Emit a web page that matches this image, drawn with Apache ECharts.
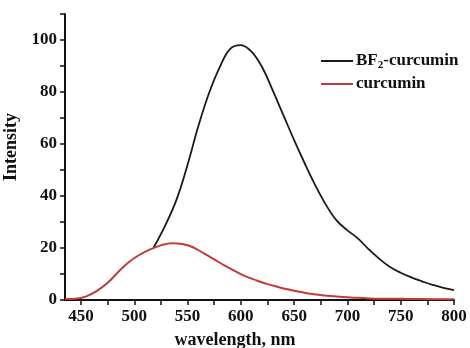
<!DOCTYPE html>
<html>
<head>
<meta charset="utf-8">
<script src="https://cdn.jsdelivr.net/npm/echarts@6/dist/echarts.min.js"></script>
<style>
html,body{margin:0;padding:0;background:#fff;}
#c{width:470px;height:348px;}
</style>
</head>
<body>
<div id="c"></div>
<script>
// ---- data ----
const bf2Wavelength = [518, 530, 540, 550, 560, 570, 580, 590, 600, 610, 620, 630, 640, 650, 660, 670, 680, 690, 700, 710, 720, 730, 740, 750, 760, 770, 780, 790, 800];
const bf2Intensity  = [20, 29.5, 39, 52, 66.7, 79.4, 89.4, 96.6, 98, 95.5, 89.5, 80.5, 71, 61.5, 52.5, 44, 36.5, 30.5, 26.8, 23.6, 19.5, 15.8, 12.7, 10.5, 8.7, 7.2, 5.8, 4.7, 3.8];
const curWavelength = [435, 445, 455, 465, 475, 485, 495, 505, 515, 525, 535, 545, 555, 565, 575, 585, 595, 605, 615, 625, 635, 645, 655, 665, 675, 690, 705, 720, 740, 760, 780, 800];
const curIntensity  = [0.4, 0.5, 1.4, 3.5, 6.6, 10.8, 14.6, 17.4, 19.5, 21, 21.8, 21.5, 20.3, 18, 15.6, 13.2, 11, 9, 7.5, 6.1, 5, 4, 3.2, 2.4, 1.9, 1.3, 0.9, 0.6, 0.5, 0.4, 0.3, 0.3];
const xTicks = [450, 475, 500, 525, 550, 575, 600, 625, 650, 675, 700, 725, 750, 775, 800];
const xLabels = [450, 500, 550, 600, 650, 700, 750, 800];
const seriesNames = ['BF2-curcumin', 'curcumin'];

const pair = (xs, ys) => xs.map((x, i) => [x, ys[i]]);
const FONT = '"Liberation Serif","Times New Roman",serif';

const chart = echarts.init(document.getElementById('c'), null, {renderer: 'canvas'});
chart.setOption({
  animation: false,
  backgroundColor: '#fff',
  grid: {left: 65, right: 16, top: 14, bottom: 48, containLabel: false},
  legend: {
    orient: 'vertical',
    left: 316,
    top: 46,
    itemWidth: 32,
    itemHeight: 2,
    itemGap: 3,
    icon: 'rect',
    data: seriesNames,
    formatter: function (n) {
      return n === 'BF2-curcumin' ? '{a|BF}{s|2}{a|-curcumin}' : '{a|' + n + '}';
    },
    textStyle: {
      fontFamily: FONT, fontWeight: 'bold', fontSize: 17, color: '#111', lineHeight: 20,
      padding: [0, 0, 0, -2],
      rich: {
        a: {fontFamily: FONT, fontWeight: 'bold', fontSize: 17, color: '#111', lineHeight: 20},
        s: {fontFamily: FONT, fontWeight: 'bold', fontSize: 11, color: '#111', lineHeight: 20, padding: [9, 0, 0, 0]}
      }
    }
  },
  xAxis: {
    type: 'value',
    min: 435,
    max: 800,
    axisLine: {lineStyle: {color: '#111', width: 2}},
    axisTick: {show: true, length: 5, lineStyle: {color: '#111', width: 1.5}, customValues: xTicks},
    axisLabel: {customValues: xLabels, color: '#111', fontFamily: FONT, fontWeight: 'bold', fontSize: 17, margin: 8},
    splitLine: {show: false}
  },
  yAxis: {
    type: 'value',
    min: 0,
    max: 110,
    interval: 10,
    axisLine: {show: true, lineStyle: {color: '#111', width: 2}},
    axisTick: {show: true, length: 5, lineStyle: {color: '#111', width: 1.5}},
    axisLabel: {
      color: '#111', fontFamily: FONT, fontWeight: 'bold', fontSize: 17, margin: 8,
      formatter: v => (v % 20 === 0 && v <= 100) ? String(v) : ''
    },
    splitLine: {show: false}
  },
  graphic: [
    {type: 'text', left: 'center', x: 0, top: 331,
     style: {text: 'wavelength, nm', font: 'bold 18px ' + FONT, fill: '#111'}},
    {type: 'text', rotation: Math.PI / 2, x: 11, y: 181,
     style: {text: 'Intensity', font: 'bold 18px ' + FONT, fill: '#111', align: 'left', verticalAlign: 'middle'}}
  ],
  series: [
    {name: seriesNames[0], type: 'line', smooth: 0.4, showSymbol: false,
     data: pair(bf2Wavelength, bf2Intensity), color: '#1a1a1a', lineStyle: {width: 1.8, color: '#1a1a1a'}, z: 2},
    {name: seriesNames[1], type: 'line', smooth: 0.4, showSymbol: false,
     data: pair(curWavelength, curIntensity), color: '#c23b3b', lineStyle: {width: 2, color: '#c23b3b'}, z: 3}
  ]
});
</script>
</body>
</html>
